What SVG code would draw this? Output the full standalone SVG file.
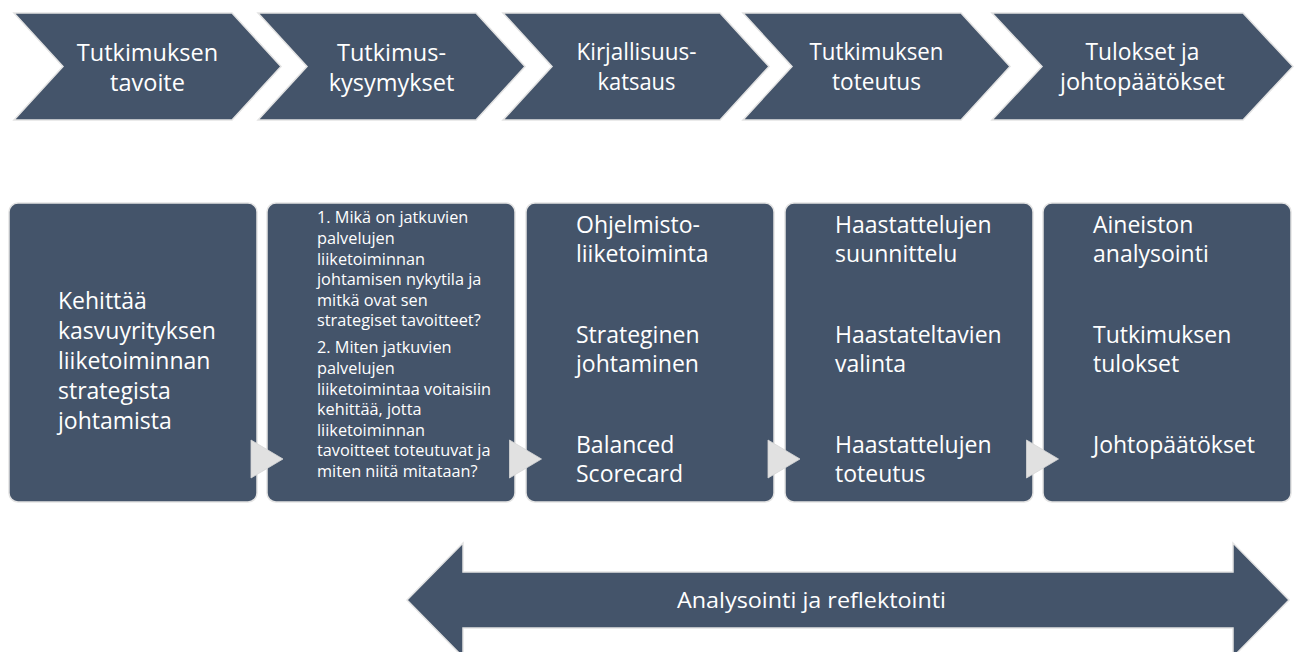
<svg xmlns="http://www.w3.org/2000/svg" width="1296" height="652" viewBox="0 0 1296 652">
<style>
.shape{fill:#44546A;stroke:#E3E3E3;stroke-width:1.5}
.tri{fill:#E1E1E1;stroke:#D6D6D6;stroke-width:0.8}
text{font-family:"Open Sans","Noto Sans","Liberation Sans",sans-serif;fill:#FFFFFF}
.ch{font-size:23.5px;text-anchor:middle}
.big{font-size:23px}
.small{font-size:16.3px}
.lbl{font-size:21px;text-anchor:middle}
</style>
<rect width="1296" height="652" fill="#FFFFFF"/>
<g id="chevron1">
<polygon class="shape" points="14,13 232,13 281,66.5 232,120 14,120 63,66.5"/>
<text class="ch" x="147.5" y="61">Tutkimuksen</text>
<text class="ch" x="147.5" y="91">tavoite</text>
</g>
<g id="chevron2">
<polygon class="shape" points="258,13 476,13 525,66.5 476,120 258,120 307,66.5"/>
<text class="ch" x="391.5" y="61">Tutkimus-</text>
<text class="ch" x="391.5" y="91">kysymykset</text>
</g>
<g id="chevron3">
<polygon class="shape" points="503,13 720,13 769,66.5 720,120 503,120 552,66.5"/>
<text class="ch" x="636.5" y="60" textLength="120" lengthAdjust="spacingAndGlyphs">Kirjallisuus-</text>
<text class="ch" x="636.5" y="90" textLength="78" lengthAdjust="spacingAndGlyphs">katsaus</text>
</g>
<g id="chevron4">
<polygon class="shape" points="743,13 961,13 1010,66.5 961,120 743,120 792,66.5"/>
<text class="ch" x="876.5" y="60" textLength="134" lengthAdjust="spacingAndGlyphs">Tutkimuksen</text>
<text class="ch" x="876.5" y="90" textLength="89" lengthAdjust="spacingAndGlyphs">toteutus</text>
</g>
<g id="chevron5">
<polygon class="shape" points="992,13 1243,13 1293,66.5 1243,120 992,120 1042,66.5"/>
<text class="ch" x="1142.5" y="60" textLength="114" lengthAdjust="spacingAndGlyphs">Tulokset ja</text>
<text class="ch" x="1142.5" y="90" textLength="165" lengthAdjust="spacingAndGlyphs">johtopäätökset</text>
</g>
<g id="box1">
<rect class="shape" x="9" y="203" width="248" height="299" rx="9"/>
<text class="big" x="58" y="309">Kehittää</text>
<text class="big" x="58" y="338.5">kasvuyrityksen</text>
<text class="big" x="58" y="368.5">liiketoiminnan</text>
<text class="big" x="58" y="399">strategista</text>
<text class="big" x="58" y="429">johtamista</text>
</g>
<g id="box2">
<rect class="shape" x="267" y="203" width="248" height="299" rx="9"/>
<text class="small" x="317" y="223.3">1. Mikä on jatkuvien</text>
<text class="small" x="317" y="243.9">palvelujen</text>
<text class="small" x="317" y="264.5">liiketoiminnan</text>
<text class="small" x="317" y="285.1">johtamisen nykytila ja</text>
<text class="small" x="317" y="305.7">mitkä ovat sen</text>
<text class="small" x="317" y="326.3">strategiset tavoitteet?</text>
<text class="small" x="317" y="353.3">2. Miten jatkuvien</text>
<text class="small" x="317" y="373.9">palvelujen</text>
<text class="small" x="317" y="394.5">liiketoimintaa voitaisiin</text>
<text class="small" x="317" y="415.1">kehittää, jotta</text>
<text class="small" x="317" y="435.7">liiketoiminnan</text>
<text class="small" x="317" y="456.3">tavoitteet toteutuvat ja</text>
<text class="small" x="317" y="476.9">miten niitä mitataan?</text>
</g>
<g id="box3">
<rect class="shape" x="526" y="203" width="248" height="299" rx="9"/>
<text class="big" x="576" y="232.5">Ohjelmisto-</text>
<text class="big" x="576" y="262">liiketoiminta</text>
<text class="big" x="576" y="342.5">Strateginen</text>
<text class="big" x="576" y="372">johtaminen</text>
<text class="big" x="576" y="452.5">Balanced</text>
<text class="big" x="576" y="482">Scorecard</text>
</g>
<g id="box4">
<rect class="shape" x="785" y="203" width="248" height="299" rx="9"/>
<text class="big" x="835" y="232.5">Haastattelujen</text>
<text class="big" x="835" y="262">suunnittelu</text>
<text class="big" x="835" y="342.5">Haastateltavien</text>
<text class="big" x="835" y="372">valinta</text>
<text class="big" x="835" y="452.5">Haastattelujen</text>
<text class="big" x="835" y="482">toteutus</text>
</g>
<g id="box5">
<rect class="shape" x="1043" y="203" width="248" height="299" rx="9"/>
<text class="big" x="1093" y="232.5">Aineiston</text>
<text class="big" x="1093" y="262">analysointi</text>
<text class="big" x="1093" y="342.5">Tutkimuksen</text>
<text class="big" x="1093" y="372">tulokset</text>
<text class="big" x="1093" y="452.5">Johtopäätökset</text>
</g>
<g id="connectors">
<polygon class="tri" points="251,440 251,478 283,459"/>
<polygon class="tri" points="509.5,440 509.5,478 541.5,459"/>
<polygon class="tri" points="768,440 768,478 800,459"/>
<polygon class="tri" points="1026.5,440 1026.5,478 1058.5,459"/>
</g>
<g id="feedback-arrow">
<polygon class="shape" points="407,600 463,543 463,572 1233,572 1233,543 1289,600 1233,657 1233,628 463,628 463,657"/>
<text class="lbl" x="811.5" y="608" textLength="269" lengthAdjust="spacingAndGlyphs">Analysointi ja reflektointi</text>
</g>
</svg>
